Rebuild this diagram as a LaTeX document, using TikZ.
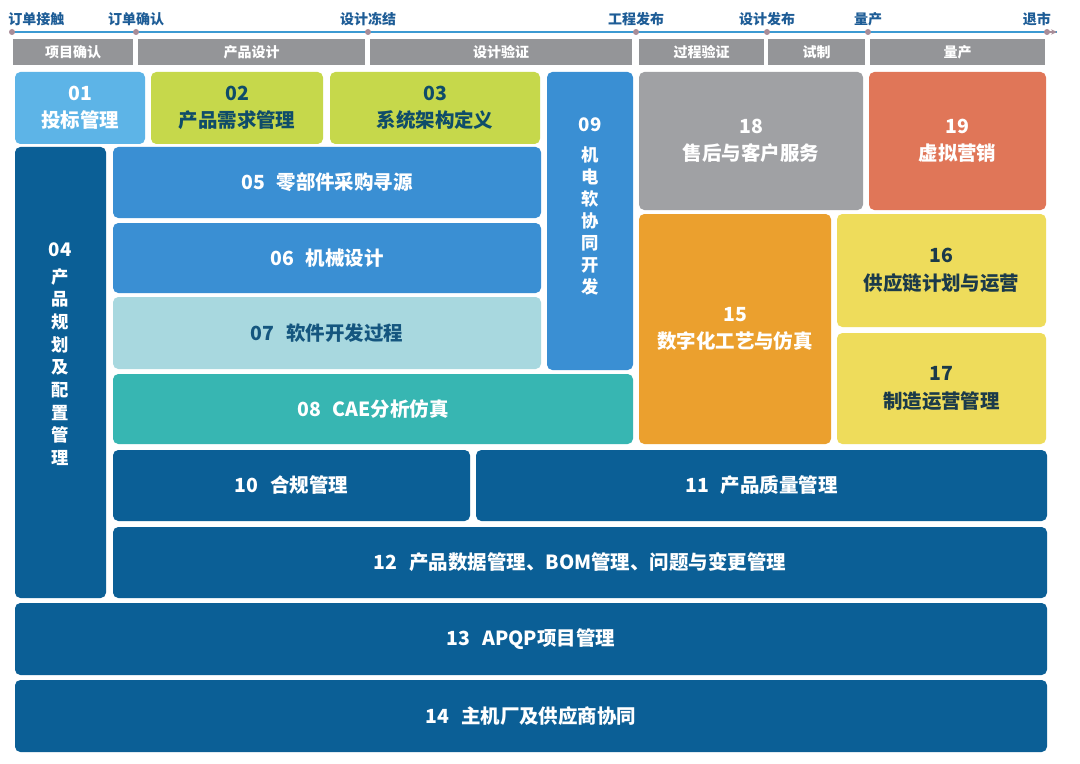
\documentclass[tikz,border=0pt]{standalone}
\usepackage{fontspec}
\setmainfont{Noto Sans CJK SC}
\usetikzlibrary{arrows.meta}
\definecolor{tlblue}{HTML}{1D5C96}
\definecolor{tlline}{HTML}{3C9AD2}
\definecolor{tldot}{HTML}{A88D98}
\definecolor{barg}{HTML}{949598}
\definecolor{c01}{HTML}{5DB4E7}
\definecolor{cgreen}{HTML}{C6D84B}
\definecolor{cblue}{HTML}{3A8FD3}
\definecolor{cgray}{HTML}{A0A1A4}
\definecolor{corange}{HTML}{E07658}
\definecolor{cdark}{HTML}{0B5F96}
\definecolor{clight}{HTML}{A8D8DF}
\definecolor{cteal}{HTML}{37B6B2}
\definecolor{camber}{HTML}{EBA02E}
\definecolor{cyellow}{HTML}{EEDC5B}
\definecolor{tdark}{HTML}{0F4C69}
\definecolor{tnavy}{HTML}{15567F}
\definecolor{tyel}{HTML}{1B3A4A}
\newcommand{\gp}{\hspace{0.6em}}
\newcommand\mybox[7]{%
  \pgfmathsetmacro\mbcx{(#3+#5)/2}%
  \pgfmathsetmacro\mbcy{(#4+#6)/2}%
  \pgfmathsetmacro\mbw{(#5-#3)*0.75}%
  \pgfmathsetmacro\mbh{(#6-#4)*0.75}%
  \node[#1, minimum width=\mbw pt, minimum height=\mbh pt] (#2) at (\mbcx,\mbcy) {#7};}
\tikzset{
  box/.style={inner sep=0pt, rounded corners=4pt, fill=#1, text=white,
    font=\bfseries\fontsize{14.6}{20.5}\selectfont, align=center},
  bar/.style={inner sep=0pt, fill=barg, text=white,
    font=\bfseries\fontsize{10.5}{12}\selectfont},
  mdot/.style={circle, fill=tldot, inner sep=0pt, minimum size=4.5pt},
  mlabel/.style={text=tlblue, font=\bfseries\fontsize{10.5}{12}\selectfont, inner sep=0pt},
  tline/.style={draw=tlline, line width=1.2pt},
  vtext/.style={text=white, align=center, inner sep=0pt}
}
\begin{document}
\begin{tikzpicture}[x=0.75pt,y=-0.75pt]
\fill[white] (0,0) rectangle (1080,763);
\useasboundingbox (0,0) rectangle (1080,763);
% timeline
\coordinate (tend) at (1057,32);
\draw[tline] (12,32) coordinate (tstart) -- (tend);
\draw[-{Stealth[length=4.5pt,width=4pt]}, tldot, line width=1pt] (1046,32) -- (tend);
\node[mdot] (m1) at (12,32) {};
\node[mdot] (m2) at (136,32) {};
\node[mdot] (m3) at (368,32) {};
\node[mdot] (m4) at (636,32) {};
\node[mdot] (m5) at (767,32) {};
\node[mdot] (m6) at (868,32) {};
\node[mdot] (m7) at (1047,32) {};
\node[mlabel, anchor=west] (l1) at (8,19) {订单接触};
\node[mlabel] (l2) at (136,19) {订单确认};
\node[mlabel] (l3) at (368,19) {设计冻结};
\node[mlabel] (l4) at (636,19) {工程发布};
\node[mlabel] (l5) at (767,19) {设计发布};
\node[mlabel] (l6) at (868,19) {量产};
\node[mlabel, anchor=east] (l7) at (1051,19) {退市};
% phase bars
\mybox{bar}{p1}{13}{39}{133}{65}{项目确认}
\mybox{bar}{p2}{138}{39}{365}{65}{产品设计}
\mybox{bar}{p3}{370}{39}{632}{65}{设计验证}
\mybox{bar}{p4}{639}{39}{764}{65}{过程验证}
\mybox{bar}{p5}{768}{39}{865}{65}{试制}
\mybox{bar}{p6}{870}{39}{1045}{65}{量产}
% boxes
\mybox{box=c01}{b01}{15}{72}{145}{144}{01\\投标管理}
\mybox{box=cgreen, text=tdark}{b02}{151}{72}{323}{144}{02\\产品需求管理}
\mybox{box=cgreen, text=tdark}{b03}{330}{72}{540}{144}{03\\系统架构定义}
\mybox{box=cblue}{b09}{547}{72}{633}{370}{}
\mybox{box=cgray}{b18}{639}{72}{863}{210}{18\\售后与客户服务}
\mybox{box=corange}{b19}{869}{72}{1046}{210}{19\\虚拟营销}
\mybox{box=cdark}{b04}{15}{147}{106}{598}{}
\mybox{box=cblue}{b05}{113}{147}{541}{218}{05\gp 零部件采购寻源}
\mybox{box=cblue}{b06}{113}{223}{541}{293}{06\gp 机械设计}
\mybox{box=clight, text=tnavy}{b07}{113}{297}{541}{369}{07\gp 软件开发过程}
\mybox{box=cteal}{b08}{113}{374}{633}{444}{08\gp CAE分析仿真}
\mybox{box=camber}{b15}{639}{214}{831}{444}{15\\数字化工艺与仿真}
\mybox{box=cyellow, text=tyel}{b16}{837}{214}{1046}{327}{16\\供应链计划与运营}
\mybox{box=cyellow, text=tyel}{b17}{837}{333}{1046}{444}{17\\制造运营管理}
\mybox{box=cdark}{b10}{113}{450}{470}{521}{10\gp 合规管理}
\mybox{box=cdark}{b11}{476}{450}{1047}{521}{11\gp 产品质量管理}
\mybox{box=cdark}{b12}{113}{527}{1047}{598}{12\gp 产品数据管理、BOM管理、问题与变更管理}
\mybox{box=cdark}{b13}{15}{603}{1047}{675}{13\gp APQP项目管理}
\mybox{box=cdark}{b14}{15}{680}{1047}{752}{14\gp 主机厂及供应商协同}
% vertical texts
\node[vtext, font=\bfseries\fontsize{13}{17}\selectfont] (t04) at (60,354)
  {{\fontsize{14}{17}\selectfont 04}\\[3pt]产\\品\\规\\划\\及\\配\\置\\管\\理};
\node[vtext, font=\bfseries\fontsize{13}{16.5}\selectfont] (t09) at (590,206)
  {{\fontsize{14}{16.5}\selectfont 09}\\[6pt]机\\电\\软\\协\\同\\开\\发};
\end{tikzpicture}
\end{document}
